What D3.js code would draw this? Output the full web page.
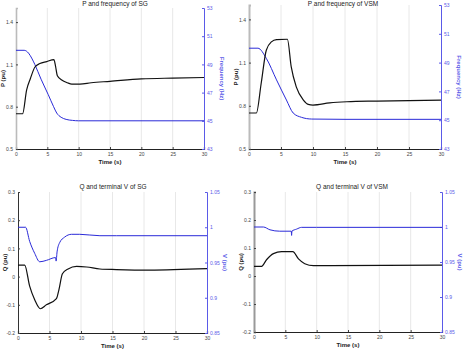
<!DOCTYPE html>
<html>
<head>
<meta charset="utf-8">
<script src="https://cdn.jsdelivr.net/npm/d3@7"></script>
<style>
  body { margin: 0; background: #fff; }
  svg { font-family: "Liberation Sans", Arial, sans-serif; }
  .tick text { font-size: 5px; }
</style>
</head>
<body>
<svg id="fig" width="465" height="352"></svg>
<script>
// shared axis ticks
const timeTicks = [0, 5, 10, 15, 20, 25, 30];
const pTicks = [0.5, 0.8, 1.1, 1.4];
const freqTicks = [43, 45, 47, 49, 51, 53];
const qTicks = [-0.2, -0.1, 0, 0.1, 0.2, 0.3];
const vTicks = [0.85, 0.9, 0.95, 1, 1.05];

// SG active power and frequency
const sgPT = [0, 1.05, 1.7, 2.3, 3, 3.8, 4.9, 6.05, 6.3, 6.6, 7.3, 8.2, 8.9, 10.2, 12, 15, 20, 25, 30];
const sgP = [0.75, 0.75, 0.92, 1.0, 1.08, 1.106, 1.12, 1.134, 1.09, 1.02, 0.99, 0.97, 0.96, 0.96, 0.97, 0.98, 0.997, 1.003, 1.007];
const sgFT = [0, 1.3, 2.0, 2.5, 3.0, 4.0, 5.15, 6.0, 6.5, 7.2, 8, 9, 10, 30];
const sgF = [50, 50, 49.8, 49.45, 49.0, 47.95, 46.85, 46.0, 45.55, 45.25, 45.1, 45.03, 45.0, 45.0];

// VSM active power and frequency
const vsmPT = [0, 1.15, 1.9, 2.7, 3.5, 4.3, 6.0, 6.6, 7.4, 8.5, 9.25, 10, 12.6, 15.3, 20, 30];
const vsmP = [0.75, 0.75, 0.955, 1.186, 1.244, 1.26, 1.262, 1.07, 0.93, 0.84, 0.81, 0.805, 0.82, 0.828, 0.833, 0.84];
const vsmFT = [0, 1.4, 2.7, 4.3, 5.85, 6.9, 8.2, 9.8, 15, 30];
const vsmF = [50, 50, 49.3, 47.8, 46.4, 45.5, 45.2, 45.08, 45.06, 45.06];

// SG reactive power and terminal voltage
const sgQT = [0, 1.06, 1.85, 2.65, 3.55, 4.5, 6.1, 6.5, 7.05, 7.95, 9.3, 10.9, 13, 15.6, 20.9, 30];
const sgQ = [0.041, 0.041, -0.034, -0.082, -0.114, -0.1, -0.078, -0.046, 0.01, 0.027, 0.036, 0.034, 0.027, 0.025, 0.023, 0.028];
const sgVT = [0, 1.2, 1.85, 2.65, 3.45, 4.5, 5.95, 6.05, 6.2, 6.6, 7.4, 8.5, 9.8, 13, 15.6, 30];
const sgV = [1.0, 1.0, 0.98, 0.963, 0.951, 0.953, 0.957, 0.952, 0.965, 0.978, 0.986, 0.99, 0.99, 0.988, 0.988, 0.988];

// VSM reactive power and terminal voltage
const vsmQT = [0, 1.2, 2, 3.1, 4.4, 6.2, 7.1, 8.1, 9.5, 12.1, 30];
const vsmQ = [0.0345, 0.0345, 0.058, 0.08, 0.087, 0.087, 0.061, 0.044, 0.037, 0.037, 0.039];
const vsmVT = [0, 1.5, 2.55, 4.1, 5.95, 6.0, 6.05, 6.8, 7.6, 10, 30];
const vsmV = [1.0, 1.0, 0.996, 0.994, 0.994, 0.988, 0.994, 0.997, 0.9995, 0.9995, 0.9995];

const blue = "#2a2ad8";
const axisBlue = "#5a5ae8";

const panels = [
  { title: "P and frequency of SG", titleX: 115, box: [16, 8, 204, 149], yLab: "P (pu)", y2Lab: "Frequency (Hz)",
    yDom: [0.5, 1.5], yTicks: pTicks, y2Dom: [43, 53], y2Ticks: freqTicks,
    s1: [sgPT, sgP], s2: [sgFT, sgF], leftW: 1.6, leftC: "#bbb" },
  { title: "P and frequency of VSM", titleX: 343, box: [249, 5, 441, 149], yLab: "P (pu)", y2Lab: "Frequency (Hz)",
    yDom: [0.5, 1.5], yTicks: pTicks, y2Dom: [43, 53], y2Ticks: freqTicks,
    s1: [vsmPT, vsmP], s2: [vsmFT, vsmF], leftW: 2, leftC: "#bbb" },
  { title: "Q and terminal V of SG", titleX: 113, box: [18, 192, 207, 333], yLab: "Q (pu)", y2Lab: "V (pu)",
    yDom: [-0.2, 0.3], yTicks: qTicks, y2Dom: [0.85, 1.05], y2Ticks: vTicks,
    s1: [sgQT, sgQ], s2: [sgVT, sgV], leftW: 1, leftC: "#333" },
  { title: "Q and terminal V of VSM", titleX: 352, box: [254, 192, 442, 332], yLab: "Q (pu)", y2Lab: "V (pu)",
    yDom: [-0.2, 0.3], yTicks: qTicks, y2Dom: [0.85, 1.05], y2Ticks: vTicks,
    s1: [vsmQT, vsmQ], s2: [vsmVT, vsmV], leftW: 2, leftC: "#999" }
];

const svg = d3.select("#fig");

panels.forEach(p => {
  const [x0, y0, x1, y1] = p.box;
  const g = svg.append("g");

  let x = d3.scaleLinear().domain([0, 30]).range([x0, x1]);
  let y = d3.scaleLinear().domain(p.yDom).range([y1, y0]);
  let y2 = d3.scaleLinear().domain(p.y2Dom).range([y1, y0]);

  // vertical grid
  g.selectAll(".grid")
    .data(timeTicks.slice(1, -1))
    .enter().append("line")
    .attr("x1", d => x(d)).attr("x2", d => x(d))
    .attr("y1", y0).attr("y2", y1)
    .attr("stroke", "#e2e2e2").attr("stroke-width", 0.8);

  // bottom axis
  const xa = g.append("g")
    .attr("transform", "translate(0," + y1 + ")")
    .call(d3.axisBottom(x).tickValues(timeTicks).tickSize(-2).tickPadding(3));
  xa.select(".domain").attr("stroke", "#222").attr("stroke-width", 1.2);
  xa.selectAll(".tick line").attr("stroke", "#444");
  xa.selectAll("text").attr("fill", "#444");

  // left axis
  const ya = g.append("g")
    .attr("transform", "translate(" + x0 + ",0)")
    .call(d3.axisLeft(y).tickValues(p.yTicks).tickSize(-2).tickPadding(3).tickFormat(d => String(+d.toFixed(2))));
  ya.select(".domain").attr("stroke", p.leftC).attr("stroke-width", p.leftW);
  ya.selectAll(".tick line").attr("stroke", "#444");
  ya.selectAll("text").attr("fill", "#444");

  // right axis
  const y2a = g.append("g")
    .attr("transform", "translate(" + x1 + ",0)")
    .call(d3.axisRight(y2).tickValues(p.y2Ticks).tickSize(-2).tickPadding(3).tickFormat(d => String(+d.toFixed(2))));
  y2a.select(".domain").attr("stroke", axisBlue).attr("stroke-width", 1);
  y2a.selectAll(".tick line").attr("stroke", axisBlue);
  y2a.selectAll("text").attr("fill", axisBlue);

  let line1 = d3.line().x((d, i) => x(p.s1[0][i])).y(d => y(d)).curve(d3.curveMonotoneX);
  let line2 = d3.line().x((d, i) => x(p.s2[0][i])).y(d => y2(d)).curve(d3.curveMonotoneX);

  g.append("path").datum(p.s2[1])
    .attr("fill", "none").attr("stroke", blue).attr("stroke-width", 1)
    .attr("d", line2);
  g.append("path").datum(p.s1[1])
    .attr("fill", "none").attr("stroke", "#111").attr("stroke-width", 1.2)
    .attr("d", line1);

  // titles and labels
  g.append("text")
    .attr("x", p.titleX).attr("y", Math.max(y0 - 3, 6))
    .attr("text-anchor", "middle").attr("font-size", 6.5).attr("fill", "#222")
    .text(p.title);
  g.append("text")
    .attr("x", (x0 + x1) / 2).attr("y", y1 + 15)
    .attr("text-anchor", "middle").attr("font-size", 6).attr("font-weight", "bold").attr("fill", "#222")
    .text("Time (s)");
  g.append("text")
    .attr("transform", "translate(" + (x0 - 11) + "," + ((y0 + y1) / 2) + ") rotate(-90)")
    .attr("text-anchor", "middle").attr("font-size", 6).attr("font-weight", "bold").attr("fill", "#222")
    .text(p.yLab);
  g.append("text")
    .attr("transform", "translate(" + (x1 + 16) + "," + ((y0 + y1) / 2) + ") rotate(90)")
    .attr("text-anchor", "middle").attr("font-size", 6).attr("font-weight", "bold").attr("fill", axisBlue)
    .text(p.y2Lab);
});
</script>
</body>
</html>
